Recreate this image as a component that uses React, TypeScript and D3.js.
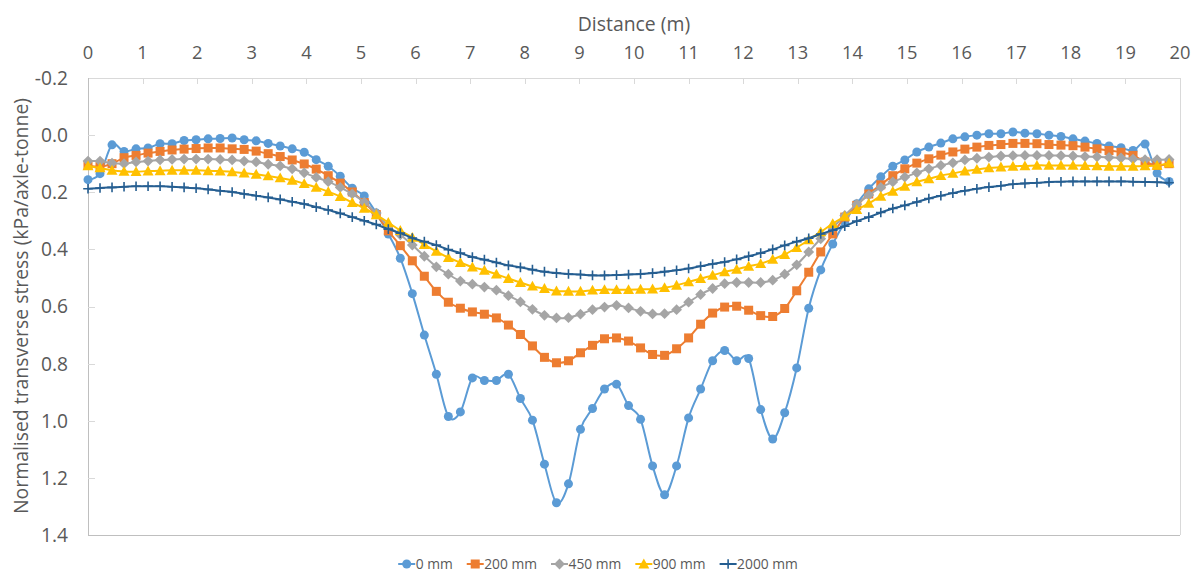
import React, { useEffect, useRef } from "react";
import * as d3 from "d3";

const distances = [0,0.22,0.44,0.66,0.88,1.1,1.32,1.54,1.76,1.98,2.2,2.42,2.64,2.86,3.08,3.3,3.52,3.74,3.96,4.18,4.4,4.62,4.84,5.06,5.28,5.5,5.72,5.94,6.16,6.38,6.6,6.82,7.04,7.26,7.48,7.7,7.92,8.14,8.36,8.58,8.8,9.02,9.24,9.46,9.68,9.9,10.12,10.34,10.56,10.78,11,11.22,11.44,11.66,11.88,12.1,12.32,12.54,12.76,12.98,13.2,13.42,13.64,13.86,14.08,14.3,14.52,14.74,14.96,15.18,15.4,15.62,15.84,16.06,16.28,16.5,16.72,16.94,17.16,17.38,17.6,17.82,18.04,18.26,18.48,18.7,18.92,19.14,19.36,19.58,19.8];

const s0mm = [0.156,0.135,0.034,0.057,0.048,0.045,0.030,0.030,0.019,0.016,0.013,0.012,0.010,0.016,0.020,0.029,0.038,0.048,0.060,0.086,0.109,0.144,0.186,0.213,0.273,0.346,0.431,0.555,0.700,0.837,0.985,0.969,0.850,0.859,0.859,0.837,0.922,0.998,1.152,1.287,1.221,1.030,0.957,0.889,0.872,0.947,0.995,1.158,1.259,1.158,0.990,0.889,0.790,0.754,0.790,0.782,0.961,1.064,0.972,0.815,0.606,0.472,0.381,0.305,0.240,0.188,0.146,0.109,0.087,0.059,0.042,0.028,0.013,0.006,0.000,-0.005,-0.005,-0.011,-0.007,-0.005,0.000,0.005,0.013,0.021,0.029,0.038,0.044,0.054,0.031,0.133,0.162];

const s200mm = [0.106,0.110,0.100,0.079,0.071,0.063,0.057,0.052,0.049,0.047,0.045,0.045,0.048,0.050,0.056,0.065,0.075,0.087,0.101,0.119,0.142,0.168,0.199,0.236,0.278,0.335,0.387,0.440,0.494,0.547,0.585,0.606,0.619,0.627,0.640,0.665,0.698,0.738,0.778,0.797,0.790,0.762,0.736,0.713,0.710,0.721,0.745,0.768,0.771,0.748,0.710,0.662,0.623,0.602,0.599,0.613,0.632,0.635,0.607,0.545,0.480,0.409,0.346,0.287,0.246,0.206,0.174,0.142,0.118,0.098,0.083,0.070,0.059,0.049,0.042,0.036,0.033,0.029,0.029,0.030,0.033,0.035,0.037,0.042,0.048,0.054,0.060,0.071,0.094,0.106,0.100];

const s450mm = [0.091,0.091,0.098,0.100,0.094,0.091,0.087,0.085,0.084,0.084,0.084,0.085,0.087,0.091,0.094,0.102,0.108,0.118,0.132,0.148,0.163,0.183,0.206,0.235,0.273,0.319,0.349,0.385,0.424,0.461,0.487,0.511,0.522,0.532,0.543,0.562,0.584,0.610,0.631,0.640,0.639,0.627,0.611,0.602,0.596,0.605,0.617,0.626,0.625,0.611,0.585,0.558,0.537,0.520,0.516,0.516,0.516,0.508,0.487,0.454,0.409,0.363,0.324,0.281,0.242,0.210,0.183,0.164,0.147,0.132,0.118,0.106,0.097,0.087,0.081,0.077,0.073,0.072,0.071,0.071,0.071,0.072,0.073,0.075,0.076,0.078,0.080,0.084,0.086,0.086,0.085];

const s900mm = [0.108,0.115,0.123,0.127,0.128,0.126,0.125,0.123,0.123,0.123,0.125,0.126,0.129,0.133,0.137,0.143,0.150,0.158,0.170,0.183,0.198,0.215,0.236,0.256,0.279,0.306,0.334,0.358,0.383,0.407,0.429,0.446,0.462,0.473,0.487,0.502,0.516,0.529,0.537,0.546,0.547,0.547,0.543,0.541,0.541,0.541,0.540,0.539,0.534,0.526,0.514,0.502,0.491,0.479,0.470,0.459,0.450,0.435,0.418,0.394,0.367,0.339,0.310,0.284,0.261,0.239,0.214,0.197,0.179,0.164,0.153,0.142,0.134,0.126,0.120,0.115,0.112,0.109,0.108,0.106,0.106,0.106,0.106,0.107,0.108,0.109,0.109,0.109,0.108,0.106,0.098];

const s2000mm = [0.188,0.185,0.183,0.181,0.179,0.179,0.179,0.181,0.183,0.186,0.190,0.195,0.199,0.206,0.212,0.218,0.225,0.233,0.241,0.252,0.262,0.274,0.287,0.300,0.313,0.329,0.343,0.360,0.373,0.385,0.401,0.413,0.427,0.436,0.446,0.456,0.463,0.471,0.478,0.483,0.486,0.488,0.491,0.491,0.490,0.488,0.486,0.483,0.478,0.473,0.467,0.459,0.451,0.444,0.435,0.424,0.413,0.400,0.386,0.373,0.361,0.346,0.333,0.319,0.301,0.287,0.271,0.257,0.246,0.234,0.222,0.212,0.203,0.195,0.188,0.182,0.177,0.172,0.169,0.167,0.164,0.163,0.162,0.162,0.162,0.162,0.162,0.163,0.164,0.165,0.167];

const seriesNames = ["0 mm", "200 mm", "450 mm", "900 mm", "2000 mm"];
const seriesValues = [s0mm, s200mm, s450mm, s900mm, s2000mm];
const seriesColors = ["#5B9BD5", "#ED7D31", "#A5A5A5", "#FFC000", "#255E91"];
const seriesMarkers = ["circle", "square", "diamond", "triangle", "plus"];

const xTicks = [0,1,2,3,4,5,6,7,8,9,10,11,12,13,14,15,16,17,18,19,20];
const yTicks = [-0.2, 0, 0.2, 0.4, 0.6, 0.8, 1.0, 1.2, 1.4];
const yTickLabels = ["-0.2", "0.0", "0.2", "0.4", "0.6", "0.8", "1.0", "1.2", "1.4"];

const xTitle = "Distance (m)";
const yTitle = "Normalised transverse stress (kPa/axle-tonne)";

const W = 1200, H = 575;
const M = { left: 88, right: 1180, top: 78, bottom: 535 };
const FONT = "'Open Sans', 'Liberation Sans', sans-serif";
const TXT = "#595959";
const AXIS = "#BFBFBF";

function drawMarker(g: any, type: string, x: number, y: number, color: string) {
  if (type === "circle") {
    g.append("circle").attr("cx", x).attr("cy", y).attr("r", 4.5).attr("fill", color);
  } else if (type === "square") {
    g.append("rect").attr("x", x - 4.5).attr("y", y - 4.5).attr("width", 9).attr("height", 9).attr("fill", color);
  } else if (type === "diamond") {
    const r = 5.4;
    g.append("path").attr("d", `M${x},${y - r}L${x + r},${y}L${x},${y + r}L${x - r},${y}Z`).attr("fill", color);
  } else if (type === "triangle") {
    const r = 5.5;
    g.append("path").attr("d", `M${x},${y - r}L${x + r},${y + r * 0.8}L${x - r},${y + r * 0.8}Z`).attr("fill", color);
  } else if (type === "plus") {
    const r = 4.8;
    g.append("path").attr("d", `M${x - r},${y}L${x + r},${y}M${x},${y - r}L${x},${y + r}`).attr("stroke", color).attr("stroke-width", 1.6).attr("fill", "none");
  }
}

export default function App() {
  const ref = useRef<SVGSVGElement>(null);

  useEffect(() => {
    const svg = d3.select(ref.current);
    svg.selectAll("*").remove();

    const x = d3.scaleLinear().domain([0, 20]).range([M.left, M.right]);
    const y = d3.scaleLinear().domain([-0.2, 1.4]).range([M.top, M.bottom]);

    svg.append("rect").attr("width", W).attr("height", H).attr("fill", "#fff");

    // plot frame
    const frame = svg.append("g").attr("fill", "none").attr("stroke", AXIS).attr("stroke-width", 1);
    frame.append("line").attr("x1", M.left).attr("x2", M.right).attr("y1", M.top + 0.5).attr("y2", M.top + 0.5).attr("stroke", "#D9D9D9");
    frame.append("line").attr("x1", M.left).attr("x2", M.right).attr("y1", M.bottom + 0.5).attr("y2", M.bottom + 0.5);
    frame.append("line").attr("x1", M.left + 0.5).attr("x2", M.left + 0.5).attr("y1", M.top).attr("y2", M.bottom);
    frame.append("line").attr("x1", M.right + 0.5).attr("x2", M.right + 0.5).attr("y1", M.top).attr("y2", M.bottom).attr("stroke", "#D9D9D9");

    // x ticks (top, inward)
    const xg = svg.append("g");
    xTicks.forEach((t) => {
      const px = Math.round(x(t)) + 0.5;
      if (t > 0 && t < 20) {
        xg.append("line").attr("x1", px).attr("x2", px).attr("y1", M.top).attr("y2", M.top + 6).attr("stroke", "#D9D9D9");
      }
      xg.append("text").attr("x", x(t)).attr("y", 58.5).attr("text-anchor", "middle")
        .attr("font-family", FONT).attr("font-size", 18.3).attr("fill", TXT).text(String(t));
    });

    // y ticks (left, inward)
    const yg = svg.append("g");
    yTicks.forEach((t, i) => {
      const py = Math.round(y(t)) + 0.5;
      if (i > 0 && i < yTicks.length - 1) {
        yg.append("line").attr("x1", M.left).attr("x2", M.left + 7).attr("y1", py).attr("y2", py).attr("stroke", "#D9D9D9");
      }
      yg.append("text").attr("x", 68).attr("y", y(t)).attr("dy", "0.36em").attr("text-anchor", "end")
        .attr("font-family", FONT).attr("font-size", 19.2).attr("fill", TXT).text(yTickLabels[i]);
    });

    // titles
    svg.append("text").attr("x", 634).attr("y", 31).attr("text-anchor", "middle")
      .attr("font-family", FONT).attr("font-size", 19.4).attr("fill", TXT).text(xTitle);
    svg.append("text").attr("transform", `translate(27.5,${306}) rotate(-90)`).attr("text-anchor", "middle")
      .attr("font-family", FONT).attr("font-size", 19.4).attr("fill", TXT).text(yTitle);

    // series
    const line = d3.line<number>()
      .x((_, i) => x(distances[i]))
      .y((d) => y(d))
      .curve(d3.curveCardinal.tension(0));

    seriesValues.forEach((vals, si) => {
      const g = svg.append("g");
      g.append("path").attr("d", line(vals) as string).attr("fill", "none")
        .attr("stroke", seriesColors[si]).attr("stroke-width", 2).attr("stroke-linejoin", "round");
      vals.forEach((v, i) => drawMarker(g, seriesMarkers[si], x(distances[i]), y(v), seriesColors[si]));
    });

    // legend
    const lg = svg.append("g");
    const ly = 564;
    const items: any[] = [];
    let cx = 0;
    seriesNames.forEach((name, si) => {
      const ig = lg.append("g");
      ig.append("line").attr("x1", 0).attr("x2", 17).attr("y1", 0).attr("y2", 0)
        .attr("stroke", seriesColors[si]).attr("stroke-width", 2);
      drawMarker(ig, seriesMarkers[si], 8.5, 0, seriesColors[si]);
      const t = ig.append("text").attr("x", 17.5).attr("y", 0).attr("dy", "0.36em")
        .attr("font-family", FONT).attr("font-size", 13.8).attr("fill", TXT).text(name);
      const w = 17.5 + (t.node() as SVGTextElement).getComputedTextLength();
      items.push({ ig, start: cx });
      cx += w + 14;
    });
    const total = cx - 14;
    const startX = 598 - total / 2;
    items.forEach((it) => it.ig.attr("transform", `translate(${startX + it.start},${ly})`));
  }, []);

  return (
    <svg ref={ref} width={W} height={H} style={{ position: "absolute", left: 0, top: 0, display: "block" }} />
  );
}
